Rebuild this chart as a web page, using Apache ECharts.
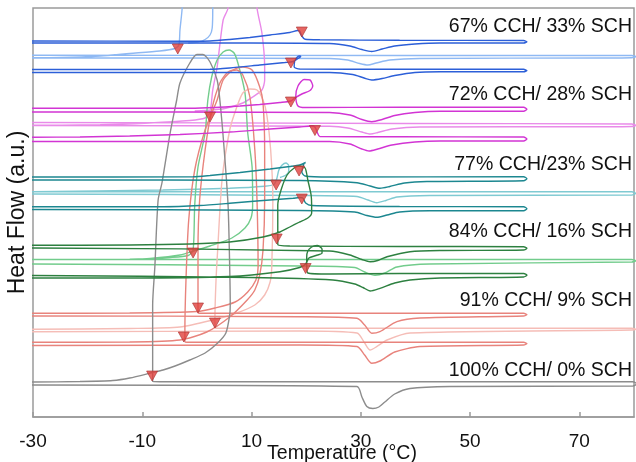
<!DOCTYPE html>
<html><head><meta charset="utf-8">
<script src="https://cdn.jsdelivr.net/npm/echarts/dist/echarts.min.js"></script>
<style>html,body{margin:0;padding:0;background:#fff}#chart{width:636px;height:462px}</style>
</head><body><div id="chart"></div>
<script>
// ---- Data (Temperature °C, Heat flow a.u.) ----
const sampleLabels = ['67% CCH/ 33% SCH','72% CCH/ 28% SCH','77% CCH/23% SCH','84% CCH/ 16% SCH','91% CCH/ 9% SCH','100% CCH/ 0% SCH'];

const cch67_a = [[-33,374],[-30,374],[9.7,374],[24.3,373.5],[28.0,371],[30.2,367.5],[32.0,365.5],[33.9,368],[36.2,371],[39.9,373],[44.5,374],[59.8,374],[60.4,375.2],[59.8,376.5],[37.1,376.7],[22.5,377.2],[19.8,377.7],[19.2,381],[18.8,386],[18.5,386.5],[17.0,384.5],[13.4,382],[9.7,379.5],[6.0,377.5],[2.4,376],[-1.3,375.8],[-30,376],[-33,376]];
const cch67_b = [[-33,359],[-30,359],[24.3,358.5],[27.6,357],[29.8,353.5],[31.3,352],[32.8,354],[35.3,357],[40.8,358.5],[73.7,359],[79.6,359.3],[80.3,360.4],[79.6,361.5],[37.1,361.5],[-30,361.7],[-33,361.7],[-33,359.2],[-25.1,359.5],[-17.7,361],[-12.3,363.5],[-6.8,366],[-4.0,368.5],[-3.3,372],[-3.1,387],[-2.7,409],[-2.6,437],[2.9,437],[2.9,409],[2.8,389],[2.4,382],[1.5,377.5],[0.2,375],[-1.6,374]];
const cch67_c = [[-33,344.5],[-30,344.5],[24.3,344.5],[28.5,342.5],[30.6,339],[32.0,337],[33.9,338.5],[36.2,341.5],[39.9,344.5],[44.5,345.2],[59.8,345.2],[60.4,346.5],[59.8,347.7],[37.1,347.7],[18.8,348],[17.8,350],[17.9,356],[18.3,359.5],[18.7,361],[19.0,360.5],[18.5,358.5],[17.6,355.5],[16.1,354.5],[11.5,352],[6.0,349],[2.4,347.7],[-30,347.5],[-33,347.5]];

const cch72_a = [[-33,305],[-30,305],[24.3,304.5],[28.0,302],[30.2,297.5],[32.0,295.3],[33.9,297.5],[36.2,301.5],[39.9,304.5],[44.5,305.8],[59.8,305.8],[60.4,307.7],[59.8,309.7],[37.1,309.7],[19.8,309.5],[18.5,311],[18.1,321],[18.5,331],[19.6,337.5],[20.7,337],[21.2,331],[20.7,326.5],[19.2,323],[17.9,319],[17.2,316],[15.2,314.5],[11.5,312.5],[7.9,311],[3.3,309.5],[-1.3,308.8],[-30,308.7],[-33,308.7]];
const cch72_b = [[-33,291.5],[-30,291.5],[24.3,290.7],[27.6,289],[30.2,285],[31.7,283],[33.1,284.5],[35.7,288],[40.8,290],[73.7,290.3],[79.6,290.5],[80.3,291.7],[79.6,293],[37.1,293.5],[-30,294.5],[-33,294.5],[-33,291.7],[-17.7,292.2],[-8.6,294],[-1.3,296.5],[1.5,299],[2.4,305],[2.9,327],[3.7,350],[4.8,397],[5.7,409],[6.0,437],[10.8,437],[11.0,409],[11.9,384],[12.4,350],[12.4,337],[11.9,327],[10.2,320],[8.4,314],[5.1,308.5],[1.5,306.5],[-0.4,306]];
const cch72_c = [[-33,275.5],[-30,275.5],[24.3,275.5],[28.0,273],[30.2,268],[31.5,266],[33.1,268],[35.7,272],[39.9,275],[44.5,276],[59.8,276],[60.4,278],[59.8,280],[37.1,280.2],[22.5,280.5],[22.0,285],[21.6,290],[21.0,291],[18.8,290],[13.4,288],[6.0,285],[-3.1,282.5],[-12.3,281],[-21.4,280],[-30,279.8],[-33,279.8]];

const cch77_a = [[-33,237],[-30,237],[18.8,236.5],[29.3,234.3],[31.7,231],[33.5,228.7],[35.3,230.5],[38.0,234],[42.1,235.5],[59.8,236.3],[60.4,238.3],[59.8,240.3],[24.3,240],[19.8,241],[19.2,245],[19.6,253.5],[19.9,254.5],[18.8,252],[17.0,250.5],[13.4,248],[7.9,244.5],[2.4,241.5],[-0.7,240.2],[-30,240],[-33,240]];
const cch77_b = [[-33,223],[-30,223],[18.8,221.5],[29.3,220.5],[31.3,217],[32.9,214.3],[34.6,216.5],[36.6,220],[42.6,221.5],[79.6,222],[80.3,223.6],[79.6,225.3],[18.8,225.3],[-30,225.3],[-33,225.3],[-30,225.4],[-6.2,227],[6.0,228.7],[12.4,230.7],[14.1,232.5],[14.6,238],[15.0,247],[15.6,252],[16.3,254],[16.8,251.5],[16.8,246],[16.3,242],[15.2,239.5]];
const cch77_c = [[-33,207.5],[-30,207.5],[18.8,206.5],[28.9,205],[31.1,201.5],[32.9,199.7],[34.8,202],[37.1,205],[42.6,206.2],[59.8,206.3],[60.4,208.3],[59.8,210.3],[37.1,210.5],[21.0,211.5],[19.9,214],[19.4,219],[18.8,219.5],[17.6,218.7],[11.5,216.2],[6.0,213.7],[0.5,211.5],[-6.2,210.3],[-30,210.3],[-33,210.3]];

const cch84_a = [[-33,169],[-30,169],[24.3,166],[28.0,162],[30.2,157.5],[31.7,155.3],[33.1,156.5],[34.8,160.3],[39.0,165.3],[44.5,166.5],[59.8,167],[60.4,168.7],[59.8,170.3],[37.1,170.5],[17.0,171],[14.8,172.5],[14.8,182],[14.8,212],[15.4,227],[16.5,242],[17.8,249],[18.8,251],[19.8,249],[20.3,237],[20.9,222],[21.0,212],[21.0,204],[20.3,199],[18.8,195],[17.0,190],[15.2,185],[12.1,180],[6.0,175],[-1.3,173],[-12.3,172],[-30,171.7],[-33,171.7]];
const cch84_b = [[-33,153],[-30,153],[18.8,151],[28.9,149.5],[30.7,145],[32.6,141.7],[34.4,144],[36.6,150],[42.6,153],[79.6,155],[80.3,156.2],[79.6,157.5],[0.5,157.5],[-30,157.5],[-33,157.5],[-30,157.4],[-12.3,157.7],[-4.9,159.5],[-1.6,161.5],[-0.7,167],[-0.4,212],[0.2,250],[1.5,284],[2.0,317],[2.7,340],[3.7,357],[4.8,365],[5.9,367],[6.8,364],[7.5,354],[8.8,324],[9.3,284],[10.1,250],[10.2,212],[9.9,199],[8.8,189],[6.4,179],[2.4,171],[0,167],[-3.1,162],[-8.6,158.5],[-12.3,157.5]];
const cch84_c = [[-33,141.5],[-30,141.5],[9.7,139.5],[24.9,137],[28.9,133],[30.4,129.5],[31.7,126],[33.5,128.7],[36.2,134],[39.0,137],[44.5,139],[59.8,140],[60.4,141.8],[59.8,143.5],[37.1,143.5],[24.3,143],[20.3,144],[20.1,152],[20.1,160],[20.3,166],[21.0,170],[22.0,171.5],[22.9,168],[22.9,164],[21.8,161.5],[20.5,159],[19.9,153],[18.8,149.5],[15.2,145.3],[6.0,140.5],[-12.3,139],[-30,139],[-33,139]];

const cch91_a = [[-33,101],[-30,101],[18.8,100.3],[29.3,98.7],[30.7,92],[32.0,83.7],[33.5,85.3],[36.6,95.3],[40.8,99],[59.8,101],[60.4,102.4],[59.8,103.7],[0.5,103.7],[0.2,104.5],[0.2,114],[0.2,167],[0.5,217],[1.5,267],[2.7,307],[4.2,334],[5.7,345],[7.3,347],[8.4,342],[9.7,320],[10.6,267],[11.0,217],[11.2,150],[10.8,137],[9.3,125],[7.0,115],[3.3,109],[0,105.5],[-12.3,104],[-30,103.7],[-33,103.7]];
const cch91_b = [[-33,85.3],[-30,85.3],[18.8,86],[29.3,84],[30.7,74],[31.7,67],[32.9,70.3],[34.8,77],[39.0,84],[79.6,87],[80.3,87.8],[79.6,88.7],[3.7,88.7],[3.3,89.5],[3.3,99],[3.5,137],[3.8,167],[4.6,237],[6.0,287],[7.3,310],[8.4,324],[9.7,328],[11.0,327],[12.1,317],[12.8,302],[13.5,267],[13.9,217],[13.7,150],[13.4,135],[12.4,122],[10.6,112],[7.3,104],[2.9,97],[-3.1,90],[-12.3,88.5],[-30,87.7],[-33,87.7]];
const cch91_c = [[-33,71.5],[-30,71.5],[18.8,72],[29.3,70.5],[30.7,62],[32.0,53.7],[33.5,56],[36.2,65],[40.8,70.5],[59.8,72],[60.4,73.4],[59.8,74.7],[-1.8,74.7],[-2.2,75.5],[-2.2,85],[-2.0,137],[-1.5,197],[-0.4,247],[1.5,287],[3.7,317],[4.8,337],[6.6,347],[8.4,350],[10.1,347],[11.5,330],[12.1,314],[12.4,267],[12.4,217],[12.1,167],[11.5,142],[10.6,127],[9.2,117],[6.0,100],[1.8,85],[-3.1,77],[-12.3,75],[-30,74.7],[-33,74.7]];

const cch100 = [[-33,32],[-30,32],[29.3,30.5],[30.2,20],[31.1,10.5],[32.2,8.5],[33.3,10],[34.4,15],[36.2,23],[39.0,28.5],[46.3,30.5],[79.8,31],[80.5,33.2],[79.8,35.3],[-6.8,35.3],[-8.1,35.5],[-8.1,57],[-8.1,112],[-7.7,150],[-7.1,217],[-6.4,234],[-4.9,284],[-3.7,317],[-3.1,334],[-1.3,354],[0,362.5],[1.1,362.5],[2.4,355],[3.7,337],[4.2,317],[4.9,274],[5.7,212],[6.0,150],[6.1,112],[6.0,102],[5.3,84],[3.8,74],[1.5,64],[-1.3,57],[-4.0,51],[-6.2,47],[-8.1,44.5],[-12.3,39],[-15.4,36.5],[-21.4,35.5],[-30,35],[-33,35]];

// crystallisation onset markers
const onsetTemp   = [19.2, -3.5, 17.2, 17.2, 2.4, 21.6, 18.7, 14.5, 19.2, 14.6, -0.7, 19.9, 0.2, 3.3, -2.4, -8.2];
const onsetSignal = [385, 368, 354, 315, 300, 286.5, 246, 232, 218, 178, 164, 148.5, 109, 94, 80, 41];

// ---- Styling ----
const COL = {
  blue:'#2c5fd8', lblue:'#8fb9f3', mag:'#d234d4', lmag:'#e98ae9',
  teal:'#1c8790', lteal:'#7fcad2', green:'#2d8040', lgreen:'#72cc8c',
  salmon:'#e8837c', pink:'#f5bdb7', gray:'#8c8c8c'
};
const curves = [
  [cch67_b, COL.lblue], [cch72_b, COL.lmag], [cch77_b, COL.lteal], [cch84_b, COL.lgreen], [cch91_b, COL.pink],
  [cch91_a, COL.salmon], [cch91_c, COL.salmon], [cch100, COL.gray],
  [cch67_a, COL.blue], [cch67_c, COL.blue], [cch72_a, COL.mag], [cch72_c, COL.mag],
  [cch77_a, COL.teal], [cch77_c, COL.teal], [cch84_a, COL.green], [cch84_c, COL.green]
];
const series = curves.map(([d, c]) => ({
  type:'line', data:d, showSymbol:false, smooth:0.25, clip:true,
  lineStyle:{color:c, width:1.4}, itemStyle:{color:c}, silent:true
}));
series.push({
  type:'scatter', z:10, symbol:'triangle', symbolRotate:180, symbolSize:[11,10],
  data: onsetTemp.map((t,i)=>[t, onsetSignal[i]]),
  itemStyle:{color:'#e0403c', borderColor:'#a33', borderWidth:0.8}
});

const labelY = [28, 96, 166, 233, 302, 372];
const font = '"Liberation Sans", Arial, sans-serif';
const graphics = sampleLabels.map((t,i)=>({
  type:'text', right: 4, top: labelY[i]-11, z:20,
  style:{text:t, fill:'#111', font:'19.5px ' + font}
}));

const chart = echarts.init(document.getElementById('chart'), null, {renderer:'canvas'});
chart.setOption({
  animation:false,
  grid:{left:33, right:2, top:8, bottom:45, containLabel:false, outerBoundsMode:'none',
        show:true, borderColor:'#9a9a9a', borderWidth:1.5, backgroundColor:'transparent'},
  xAxis:{
    type:'value', min:-30, max:80, interval:20,
    name:'Temperature (°C)', nameLocation:'middle', nameGap:27, nameMoveOverlap:false,
    nameTextStyle:{fontSize:19.5, color:'#111', fontFamily:font, padding:[0,0,0,17]},
    axisLine:{lineStyle:{color:'#9a9a9a', width:1.5}},
    axisTick:{inside:true, length:5, lineStyle:{color:'#9a9a9a', width:1.5}},
    axisLabel:{fontSize:19, color:'#111', fontFamily:font, margin:15, showMaxLabel:false},
    splitLine:{show:false}
  },
  yAxis:{
    type:'value', min:0, max:409,
    name:'Heat Flow (a.u.)', nameLocation:'middle', nameGap:4, nameMoveOverlap:false,
    nameTextStyle:{fontSize:23, color:'#111', fontFamily:font},
    axisLine:{show:false}, axisTick:{show:false}, axisLabel:{show:false}, splitLine:{show:false}
  },
  graphic: graphics,
  series: series
});
</script></body></html>
